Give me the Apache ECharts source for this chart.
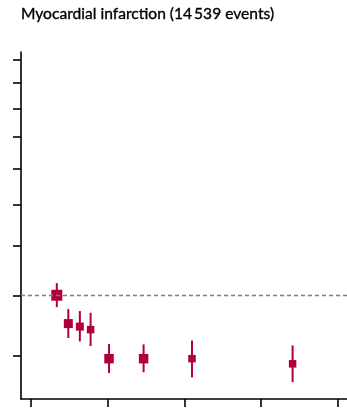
<!DOCTYPE html>
<html>
<head>
<meta charset="utf-8">
<style>
  html, body { margin: 0; padding: 0; background: #fff; }
  #chart { width: 347px; height: 408px; }
</style>
<script src="https://cdn.jsdelivr.net/npm/echarts@6/dist/echarts.min.js"></script>
</head>
<body>
<div id="chart"></div>
<script>
// Alcohol intake (g/week, category mean) and hazard ratios with 95% CI
const intake = [34, 49, 64, 78, 102, 147, 210, 341];
const hazardRatio = [1.00, 0.90, 0.89, 0.88, 0.79, 0.79, 0.79, 0.775];
const ciLower = [0.957, 0.853, 0.842, 0.828, 0.749, 0.751, 0.737, 0.724];
const ciUpper = [1.046, 0.950, 0.943, 0.937, 0.834, 0.833, 0.845, 0.830];
// Square side (px), proportional to precision of each estimate
const boxSize = [11, 9, 8, 7.5, 9.5, 9.5, 7.5, 7.5];

const xTicks = [0, 100, 200, 300, 400];
const yTicks = [0.8, 1.0, 1.2, 1.4, 1.6, 1.8, 2.0, 2.2, 2.4];
const xRange = [-12.6, 411.8];
const yRange = [0.68, 2.47];
const refHR = 1;

const ln = Math.log;
const CRIMSON = '#b0003a';

const seriesData = intake.map((x, i) => [x, ln(hazardRatio[i]), ln(ciLower[i]), ln(ciUpper[i]), boxSize[i]]);

const chart = echarts.init(document.getElementById('chart'), null, { renderer: 'canvas' });
chart.setOption({
  animation: false,
  title: {
    text: 'Myocardial infarction (14\u2009539 events)',
    left: 16,
    top: 1,
    textStyle: {
      fontFamily: 'Lato', fontSize: 15.6, fontWeight: 'normal', color: '#000',
      textBorderColor: '#000', textBorderWidth: 0.35
    }
  },
  grid: { left: 21, right: 0, top: 52, bottom: 9, containLabel: false },
  xAxis: {
    type: 'value',
    min: xRange[0], max: xRange[1],
    axisLine: { show: true, onZero: false, lineStyle: { color: '#000', width: 1.6 } },
    axisTick: { show: true, length: 8, customValues: xTicks, lineStyle: { color: '#000', width: 1.6 } },
    axisLabel: { show: false },
    splitLine: { show: false }
  },
  yAxis: {
    type: 'value',
    min: ln(yRange[0]), max: ln(yRange[1]),
    axisLine: { show: true, onZero: false, lineStyle: { color: '#000', width: 1.6 } },
    axisTick: { show: true, length: 8, customValues: yTicks.map(ln), lineStyle: { color: '#000', width: 1.6 } },
    axisLabel: { show: false },
    splitLine: { show: false }
  },
  series: [
    {
      // reference line at HR = 1
      type: 'line',
      data: [],
      z: 1,
      markLine: {
        silent: true,
        symbol: 'none',
        label: { show: false },
        lineStyle: { color: '#67838f', width: 1.4, type: [4, 3] },
        data: [{ yAxis: ln(refHR) }]
      }
    },
    {
      type: 'custom',
      z: 3,
      data: seriesData,
      renderItem: function (params, api) {
        const c = api.coord([api.value(0), api.value(1)]);
        const lo = api.coord([api.value(0), api.value(2)]);
        const hi = api.coord([api.value(0), api.value(3)]);
        const s = api.value(4);
        return {
          type: 'group',
          children: [
            {
              type: 'line',
              shape: { x1: c[0], y1: lo[1], x2: c[0], y2: hi[1] },
              style: { stroke: CRIMSON, lineWidth: 2 }
            },
            {
              type: 'rect',
              shape: { x: c[0] - s / 2, y: c[1] - s / 2, width: s, height: s },
              style: { fill: CRIMSON }
            }
          ]
        };
      }
    }
  ]
});
</script>
</body>
</html>
